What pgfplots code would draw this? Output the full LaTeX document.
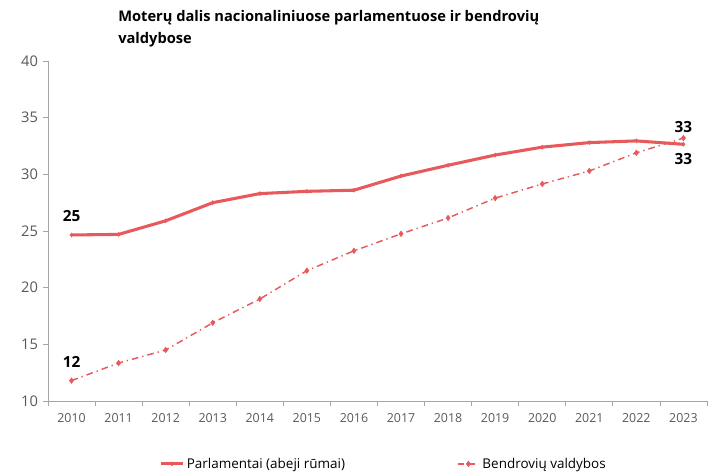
\documentclass[border=0pt]{standalone}
\usepackage{pgfplots}
\pgfplotsset{compat=1.18}
\usepackage{fontspec}
\setmainfont{Open Sans}
\definecolor{lred}{HTML}{E8595B}
\definecolor{tgray}{HTML}{595959}
\definecolor{agray}{HTML}{A6A6A6}
\begin{document}
\begin{tikzpicture}
\useasboundingbox (-36pt,-53.25pt) rectangle (500.25pt,300.75pt);
\begin{axis}[
  scale only axis, width=494.25pt, height=255pt,
  xmin=2009.5, xmax=2023.5, ymin=10, ymax=40,
  axis x line*=bottom, axis y line*=left,
  axis line style={agray, line width=0.6pt},
  xtick={2009.5,2010.5,...,2023.5}, xticklabels={},
  extra x ticks={2010,...,2023},
  extra x tick style={major tick length=0pt},
  extra x tick labels={2010,2011,2012,2013,2014,2015,2016,2017,2018,2019,2020,2021,2022,2023},
  x tick label style={font=\fontsize{9.3}{10}\selectfont, text=tgray, yshift=-6pt},
  ytick={10,15,...,40},
  y tick label style={font=\fontsize{11}{12}\selectfont, text=tgray},
  /pgf/number format/assume math mode=true,
  tick style={agray, line width=0.6pt},
  tick align=outside, major tick length=4pt,
  clip=false,
  legend columns=2,
  legend style={at={(0.51,-0.185)}, anchor=center, draw=none, font=\fontsize{10.1}{12}\selectfont,
    /tikz/every even column/.append style={column sep=82pt}},
  legend image code/.code={\draw[#1] (0pt,0pt) -- (8pt,0pt) (8pt,0pt) -- (16pt,0pt); \path[#1,solid] plot[mark repeat=1] coordinates {(8pt,0pt)};},
]
\addplot[lred, line width=2.3pt, mark=diamond*, mark size=1.4pt, mark options={solid, line width=0.5pt}] coordinates {
(2010,24.65) (2011,24.7) (2012,25.9) (2013,27.5) (2014,28.3) (2015,28.5) (2016,28.6)
(2017,29.85) (2018,30.8) (2019,31.7) (2020,32.4) (2021,32.8) (2022,32.95) (2023,32.65)};
\addlegendentry{Parlamentai (abeji rūmai)}
\addplot[lred, line width=1.1pt, dash pattern=on 5pt off 3pt on 1pt off 3pt, mark=diamond*, mark size=2pt, mark options={solid, line width=0.5pt}] coordinates {
(2010,11.8) (2011,13.35) (2012,14.5) (2013,16.9) (2014,19.0) (2015,21.5) (2016,23.25)
(2017,24.75) (2018,26.15) (2019,27.9) (2020,29.15) (2021,30.3) (2022,31.9) (2023,33.2)};
\addlegendentry{Bendrovių valdybos}
\node[font=\bfseries\fontsize{11.5}{12}\selectfont] at (axis cs:2010,26.33) {25};
\node[font=\bfseries\fontsize{11.5}{12}\selectfont] at (axis cs:2010,13.44) {12};
\node[font=\bfseries\fontsize{11.5}{12}\selectfont] at (axis cs:2023,34.18) {33};
\node[font=\bfseries\fontsize{11.5}{12}\selectfont] at (axis cs:2023,31.36) {33};
\end{axis}
\node[anchor=north west, align=left, inner sep=0pt, font=\bfseries\fontsize{11}{13}\selectfont] at (52.5pt,293pt) {Moterų dalis nacionaliniuose parlamentuose ir bendrovių\\[3.5pt]valdybose};
\end{tikzpicture}
\end{document}
